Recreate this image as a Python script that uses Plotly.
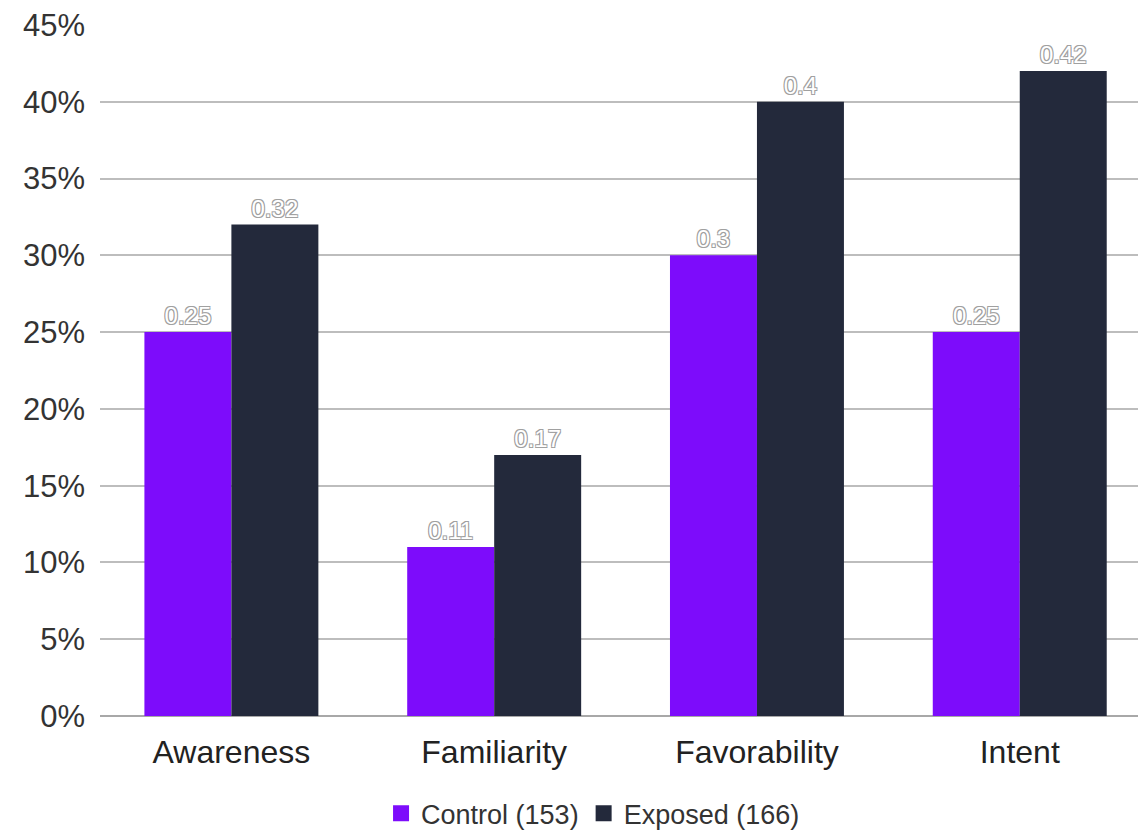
import plotly.graph_objects as go

# Survey metrics by group
categories = ["Awareness", "Familiarity", "Favorability", "Intent"]
control_values = [0.25, 0.11, 0.30, 0.25]
exposed_values = [0.32, 0.17, 0.40, 0.42]
series_names = ["Control (153)", "Exposed (166)"]
series_colors = ["#7d0cfb", "#23293b"]
tick_values = [0, 0.05, 0.10, 0.15, 0.20, 0.25, 0.30, 0.35, 0.40, 0.45]
tick_labels = ["0%", "5%", "10%", "15%", "20%", "25%", "30%", "35%", "40%", "45%"]

FONT = "Liberation Sans, Arial, sans-serif"
# hollow-looking value labels: white fill with a thin grey outline
outline = "#a0a0a0"
label_font = dict(
    family=FONT, size=24, color="white",
    shadow=f"1px 1px 0 {outline}, -1px -1px 0 {outline}, 1px -1px 0 {outline}, -1px 1px 0 {outline}",
)

fig = go.Figure()
for name, vals, color in zip(series_names, [control_values, exposed_values], series_colors):
    fig.add_trace(go.Bar(
        x=categories, y=vals, name=name, showlegend=False,
        marker=dict(color=color, line=dict(width=0)),
        text=[str(v) for v in vals], textposition="outside",
        textfont=label_font, cliponaxis=False,
    ))

# Legend entries with larger square swatches
for name, color in zip(series_names, series_colors):
    fig.add_trace(go.Scatter(
        x=[None], y=[None], name=name, mode="markers",
        marker=dict(symbol="square", size=16, color=color),
    ))

fig.update_layout(
    width=1138, height=831,
    margin=dict(l=100, r=0, t=25, b=115, autoexpand=False),
    paper_bgcolor="white", plot_bgcolor="white",
    barmode="group", bargap=0.338, bargroupgap=0,
    font=dict(family=FONT, color="#3a3a3a"),
    xaxis=dict(
        range=[-0.5, 3.45], showgrid=False, showline=False,
        tickfont=dict(size=32, color="#222"), ticks="", ticklabelstandoff=14,
    ),
    yaxis=dict(
        range=[0, 0.45], tickvals=tick_values, ticktext=tick_labels,
        showgrid=True, gridcolor="#bdbdbd", gridwidth=2,
        zeroline=True, zerolinecolor="#a8a8a8", zerolinewidth=2,
        tickfont=dict(size=31, color="#333"), ticks="", ticklabelstandoff=14,
    ),
    legend=dict(
        orientation="h", x=0.475, xanchor="center", y=-0.106, yanchor="top",
        font=dict(size=27, color="#333"), itemwidth=30, traceorder="normal",
        itemsizing="trace", tracegroupgap=0,
    ),
    showlegend=True,
)

fig.write_html("out.html")
